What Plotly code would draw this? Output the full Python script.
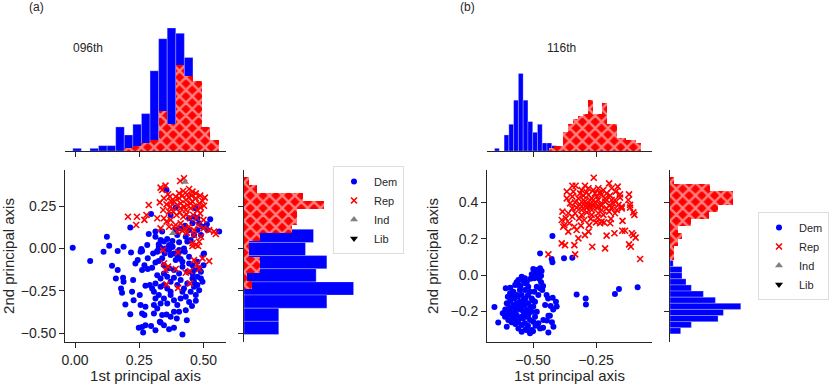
import plotly.graph_objects as go

# ---- panel (a): 096th ----
a_dem = [(-0.009, 0.004), (0.059, -0.075), (0.124, 0.069), (0.133, 0.016), (0.111, -0.02), (0.166, -0.016),
         (0.189, 0.01), (0.218, -0.024), (0.255, -0.02), (0.261, -0.016), (0.258, -0.004), (0.287, 0.085),
         (0.313, 0.069), (0.326, 0.024), (0.346, 0.04), (0.366, 0.02), (0.333, 0.05), (0.32, -0.016),
         (0.359, 0.055), (0.379, 0.043), (0.398, 0.079), (0.392, 0.108), (0.411, 0.118), (0.431, 0.069),
         (0.444, 0.108), (0.45, 0.049), (0.437, 0.04), (0.476, 0.178), (0.463, 0.187), (0.483, 0.148),
         (0.526, 0.172), (0.515, 0.108), (0.561, 0.099), (0.49, 0.079), (0.502, -0.03), (0.405, -0.01),
         (0.424, 0.0), (0.385, -0.03), (0.372, 0.197), (0.47, 0.237), (0.392, 0.241), (0.444, 0.178),
         (0.356, 0.345), (0.296, 0.203), (0.215, 0.124), (0.144, -0.103), (0.166, -0.128), (0.159, -0.178),
         (0.187, -0.174), (0.189, -0.197), (0.179, -0.237), (0.183, -0.262), (0.226, -0.187), (0.222, -0.256),
         (0.228, -0.306), (0.252, -0.276), (0.244, -0.069), (0.235, -0.089), (0.196, -0.331), (0.215, -0.389),
         (0.255, -0.335), (0.261, -0.385), (0.27, -0.394), (0.274, -0.345), (0.248, -0.469), (0.261, -0.464),
         (0.274, -0.454), (0.265, -0.497), (0.296, -0.458), (0.313, -0.483), (0.333, -0.438), (0.346, -0.454),
         (0.366, -0.477), (0.385, -0.469), (0.418, -0.509), (0.356, -0.39), (0.396, -0.414), (0.435, -0.424),
         (0.405, -0.375), (0.431, -0.365), (0.274, -0.221), (0.291, -0.217), (0.283, -0.122), (0.3, -0.114),
         (0.313, -0.083), (0.326, -0.075), (0.339, -0.059), (0.304, -0.03), (0.32, -0.02), (0.333, 0.004),
         (0.349, -0.03), (0.366, -0.01), (0.379, 0.01), (0.398, -0.039), (0.411, -0.063), (0.427, -0.02),
         (0.444, -0.049), (0.457, -0.099), (0.476, -0.079), (0.49, -0.138), (0.5, -0.035), (0.32, -0.158),
         (0.333, -0.178), (0.346, -0.148), (0.359, -0.168), (0.372, -0.197), (0.385, -0.174), (0.398, -0.217),
         (0.411, -0.187), (0.424, -0.237), (0.437, -0.207), (0.45, -0.256), (0.463, -0.227), (0.457, -0.178),
         (0.47, -0.276), (0.483, -0.247), (0.307, -0.256), (0.313, -0.296), (0.326, -0.276), (0.307, -0.335),
         (0.32, -0.355), (0.333, -0.325), (0.346, -0.296), (0.359, -0.325), (0.372, -0.276), (0.385, -0.306),
         (0.398, -0.335), (0.411, -0.296), (0.418, -0.256), (0.431, -0.286), (0.444, -0.316), (0.346, -0.217),
         (0.359, -0.237), (0.372, -0.256), (0.333, -0.227), (0.346, -0.099), (0.366, -0.118), (0.385, -0.128),
         (0.405, -0.148), (0.418, -0.108), (0.437, -0.138), (0.463, -0.128), (0.476, -0.168), (0.483, -0.118),
         (0.496, -0.197), (0.457, -0.148), (0.27, -0.099), (0.283, -0.059), (0.261, -0.128), (0.3, -0.237),
         (0.313, -0.207), (0.392, -0.069), (0.418, -0.079), (0.444, -0.089), (0.372, -0.039), (0.405, -0.02),
         (0.463, -0.197), (0.476, -0.217), (0.307, -0.385), (0.33, -0.434), (0.372, -0.404), (0.339, -0.394),
         (0.385, -0.375), (0.313, 0.099), (0.339, 0.099), (0.326, 0.01), (0.352, 0.0), (0.379, 0.01),
         (0.405, 0.036), (0.463, 0.079), (0.476, 0.108), (0.496, 0.128), (0.513, 0.142), (0.457, 0.148),
         (0.428, 0.134), (0.281, 0.02), (0.49, -0.178), (0.5, -0.1), (0.47, -0.31), (0.455, -0.34)]

a_rep = [(0.409, 0.398), (0.424, 0.414), (0.333, 0.359), (0.339, 0.345), (0.352, 0.371), (0.362, 0.32),
         (0.369, 0.306), (0.444, 0.351), (0.457, 0.335), (0.47, 0.325), (0.487, 0.312), (0.505, 0.3),
         (0.392, 0.306), (0.405, 0.296), (0.418, 0.312), (0.431, 0.286), (0.444, 0.3), (0.457, 0.276),
         (0.47, 0.296), (0.483, 0.266), (0.496, 0.28), (0.385, 0.276), (0.398, 0.256), (0.411, 0.266),
         (0.424, 0.247), (0.437, 0.256), (0.45, 0.237), (0.463, 0.247), (0.476, 0.227), (0.489, 0.241),
         (0.502, 0.252), (0.287, 0.256), (0.33, 0.272), (0.343, 0.227), (0.356, 0.26), (0.366, 0.217),
         (0.382, 0.217), (0.395, 0.197), (0.408, 0.213), (0.421, 0.187), (0.434, 0.201), (0.447, 0.178),
         (0.46, 0.197), (0.473, 0.181), (0.487, 0.207), (0.5, 0.168), (0.206, 0.187), (0.241, 0.187),
         (0.278, 0.197), (0.27, 0.168), (0.238, 0.138), (0.32, 0.178), (0.346, 0.178), (0.356, 0.158),
         (0.372, 0.168), (0.333, 0.118), (0.366, 0.128), (0.392, 0.138), (0.411, 0.148), (0.427, 0.118),
         (0.444, 0.128), (0.463, 0.108), (0.479, 0.138), (0.5, 0.118), (0.522, 0.108), (0.541, 0.099),
         (0.548, 0.085), (0.463, 0.079), (0.49, 0.069), (0.457, 0.03), (0.47, 0.02), (0.483, 0.039),
         (0.385, 0.128), (0.398, 0.099), (0.418, 0.103), (0.435, 0.093), (0.372, 0.247), (0.411, 0.237),
         (0.431, 0.227), (0.45, 0.266), (0.405, 0.325), (0.421, 0.339), (0.437, 0.32), (0.453, 0.312),
         (0.346, 0.296), (0.375, 0.276), (0.343, -0.01), (0.401, -0.024), (0.457, 0.014), (0.479, 0.014),
         (0.346, -0.089), (0.362, -0.108), (0.352, -0.128), (0.392, -0.122), (0.431, -0.144), (0.447, -0.134),
         (0.463, -0.069), (0.474, -0.095), (0.483, -0.122), (0.496, -0.059), (0.522, -0.075), (0.356, -0.213),
         (0.401, -0.233), (0.447, -0.207)]

a_ind = [(0.428, 0.392), (0.381, 0.09)]

# marginal histograms (a), counts
a_xbins = [0.008, 0.0414, 0.0748, 0.1082, 0.1416, 0.175, 0.2084, 0.2418, 0.2752, 0.3086, 0.342,
           0.3754, 0.4088, 0.4422, 0.4756, 0.509, 0.5424]
a_xdem = [1, 0, 1, 2, 2, 9, 6, 10, 14, 30, 42, 46, 44, 35, 20, 6, 1]
a_xrep = [0, 0, 0, 0, 0, 0, 1, 2, 3, 4, 15, 10, 32, 28, 26, 9, 4]

a_ybins_dem = [0.074, -0.0037, -0.0814, -0.1591, -0.2368, -0.3145, -0.3922, -0.4699]
a_ydem = [26, 23, 31, 27, 41, 31, 13, 13]
a_ybins_rep = [0.397, 0.350, 0.303, 0.256, 0.209, 0.162, 0.115, 0.068, 0.021, -0.026,
               -0.073, -0.120, -0.167, -0.214]
a_yrep = [2, 5, 22, 30, 20, 20, 18, 6, 2, 2, 6, 6, 1, 3]

# ---- panel (b): 116th ----
b_dem = [(-0.472, 0.119), (-0.426, 0.088), (-0.423, 0.07), (-0.377, 0.092), (-0.344, 0.095), (-0.423, 0.215),
         (-0.327, -0.107), (-0.291, -0.129), (-0.29, -0.162), (-0.175, -0.105), (-0.159, -0.077), (-0.085, -0.068),
         (-0.653, -0.176), (-0.638, -0.261), (-0.499, 0.033), (-0.485, 0.028), (-0.472, 0.037), (-0.466, 0.022),
         (-0.479, 0.009), (-0.492, 0.0), (-0.505, 0.004), (-0.495, -0.018), (-0.481, -0.009), (-0.468, -0.004),
         (-0.468, -0.04), (-0.463, -0.083), (-0.446, -0.11), (-0.422, -0.125), (-0.409, -0.147), (-0.406, -0.174),
         (-0.452, -0.165), (-0.439, -0.224), (-0.433, -0.224), (-0.419, -0.285), (-0.439, -0.316), (-0.512, -0.321),
         (-0.505, -0.303), (-0.558, -0.294), (-0.545, -0.275), (-0.479, -0.266), (-0.459, -0.248), (-0.472, -0.294),
         (-0.608, -0.073), (-0.604, -0.156), (-0.598, -0.202), (-0.611, -0.23), (-0.591, -0.101), (-0.585, -0.129),
         (-0.578, -0.165), (-0.571, -0.193), (-0.565, -0.22), (-0.558, -0.248), (-0.552, -0.083), (-0.545, -0.11),
         (-0.538, -0.138), (-0.532, -0.165), (-0.525, -0.193), (-0.519, -0.22), (-0.512, -0.248), (-0.571, -0.055),
         (-0.558, -0.028), (-0.545, -0.009), (-0.532, -0.018), (-0.552, -0.147), (-0.565, -0.11), (-0.578, -0.092),
         (-0.591, -0.184), (-0.585, -0.211), (-0.538, -0.202), (-0.525, -0.23), (-0.505, -0.202), (-0.499, -0.174),
         (-0.492, -0.147), (-0.505, -0.129), (-0.512, -0.092), (-0.519, -0.064), (-0.532, -0.046), (-0.495, -0.092),
         (-0.485, -0.064), (-0.472, -0.073), (-0.479, -0.11), (-0.485, -0.202), (-0.492, -0.23), (-0.499, -0.257),
         (-0.532, -0.266), (-0.545, -0.23), (-0.574, -0.248), (-0.598, -0.248), (-0.604, -0.285), (-0.545, -0.312),
         (-0.525, -0.303), (-0.558, -0.055), (-0.532, -0.083), (-0.565, -0.156), (-0.545, -0.174), (-0.519, -0.156),
         (-0.575, -0.13), (-0.56, -0.12), (-0.55, -0.19), (-0.56, -0.17), (-0.57, -0.21), (-0.54, -0.24),
         (-0.53, -0.13), (-0.52, -0.11), (-0.55, -0.06), (-0.58, -0.23), (-0.59, -0.14), (-0.6, -0.12),
         (-0.51, -0.18), (-0.5, -0.14), (-0.56, -0.26), (-0.52, -0.28), (-0.49, -0.28), (-0.61, -0.19),
         (-0.62, -0.21), (-0.6, -0.22), (-0.535, -0.22), (-0.515, -0.2), (-0.545, -0.155), (-0.57, -0.18),
         (-0.58, -0.1), (-0.54, -0.03), (-0.525, -0.04), (-0.51, -0.02), (-0.495, 0.015), (-0.475, -0.02),
         (-0.46, -0.06), (-0.44, -0.13), (-0.43, -0.17), (-0.42, -0.19), (-0.445, -0.25), (-0.425, -0.26),
         (-0.46, -0.29), (-0.5, -0.31), (-0.53, -0.3), (-0.57, -0.27), (-0.585, -0.26), (-0.59, -0.07),
         (-0.565, -0.04), (-0.6, -0.16)]

b_rep = [(-0.366, 0.459), (-0.340, 0.459), (-0.307, 0.468), (-0.280, 0.478), (-0.261, 0.468), (-0.241, 0.478),
         (-0.221, 0.468), (-0.188, 0.478), (-0.172, 0.459), (-0.155, 0.444), (-0.119, 0.444),
         (-0.366, 0.422), (-0.344, 0.432), (-0.320, 0.422), (-0.300, 0.437), (-0.280, 0.441), (-0.267, 0.422),
         (-0.247, 0.432), (-0.230, 0.441), (-0.214, 0.422), (-0.194, 0.437), (-0.175, 0.413), (-0.155, 0.426),
         (-0.122, 0.413), (-0.353, 0.395), (-0.333, 0.400), (-0.314, 0.389), (-0.294, 0.404), (-0.274, 0.389),
         (-0.254, 0.400), (-0.234, 0.389), (-0.214, 0.404), (-0.198, 0.382), (-0.181, 0.395), (-0.161, 0.386),
         (-0.148, 0.377), (-0.115, 0.386), (-0.344, 0.367), (-0.327, 0.371), (-0.307, 0.358), (-0.287, 0.371),
         (-0.267, 0.358), (-0.247, 0.371), (-0.228, 0.358), (-0.208, 0.367), (-0.188, 0.371), (-0.168, 0.358),
         (-0.148, 0.367), (-0.115, 0.371), (-0.383, 0.349), (-0.360, 0.340), (-0.333, 0.340), (-0.307, 0.331),
         (-0.287, 0.345), (-0.267, 0.331), (-0.241, 0.340), (-0.221, 0.331), (-0.198, 0.349), (-0.175, 0.340),
         (-0.102, 0.345), (-0.098, 0.331), (-0.386, 0.303), (-0.370, 0.312), (-0.344, 0.321), (-0.317, 0.312),
         (-0.297, 0.303), (-0.271, 0.309), (-0.244, 0.316), (-0.228, 0.294), (-0.191, 0.309), (-0.145, 0.298),
         (-0.376, 0.275), (-0.356, 0.285), (-0.336, 0.266), (-0.310, 0.272), (-0.277, 0.275), (-0.250, 0.290),
         (-0.234, 0.285), (-0.218, 0.290), (-0.194, 0.285), (-0.380, 0.266), (-0.360, 0.239), (-0.327, 0.248),
         (-0.294, 0.220), (-0.280, 0.239), (-0.320, 0.202), (-0.373, 0.165), (-0.386, 0.174), (-0.336, 0.165),
         (-0.265, 0.156), (-0.214, 0.147), (-0.208, 0.217), (-0.177, 0.230), (-0.146, 0.244), (-0.135, 0.244),
         (-0.108, 0.230), (-0.102, 0.220), (-0.093, 0.206), (-0.119, 0.169), (-0.112, 0.156), (-0.439, 0.114),
         (-0.333, 0.114), (-0.075, 0.088), (-0.259, 0.536), (-0.344, 0.492), (-0.331, 0.492), (-0.294, 0.492),
         (-0.198, 0.505), (-0.164, 0.487), (-0.313, 0.450), (-0.287, 0.455), (-0.254, 0.450), (-0.234, 0.455),
         (-0.208, 0.450), (-0.300, 0.413), (-0.274, 0.413), (-0.241, 0.413), (-0.208, 0.413), (-0.188, 0.413),
         (-0.287, 0.386), (-0.261, 0.382), (-0.228, 0.382), (-0.307, 0.376), (-0.274, 0.376), (-0.241, 0.376)]

b_xbins_dem = [-0.643, -0.6241, -0.6052, -0.5863, -0.5674, -0.5485, -0.5296, -0.5107, -0.4918, -0.4729,
               -0.454, -0.4351, -0.4162]
b_xdem = [1, 0, 6, 10, 19, 29, 19, 11, 7, 10, 3, 3, 2]
b_xbins_rep = [-0.427, -0.4078, -0.3886, -0.3694, -0.3502, -0.331, -0.3118, -0.2926, -0.2734, -0.2542,
               -0.235, -0.2158, -0.1966, -0.1774, -0.1582, -0.139, -0.1198, -0.1006, -0.0814]
b_xrep = [1, 2, 2, 7, 10, 12, 13, 14, 19, 14, 14, 18, 10, 10, 5, 5, 4, 4, 3]

b_ybins_dem = [0.097, 0.0633, 0.0296, -0.0041, -0.0378, -0.0715, -0.1052, -0.1389, -0.1726, -0.2063,
               -0.24, -0.2737, -0.3074]
b_ydem = [1, 1.2, 4.5, 4.5, 6, 8, 12.5, 17, 26.5, 20, 18, 8, 4]
b_ybins_rep = [0.519, 0.481, 0.443, 0.405, 0.367, 0.329, 0.291, 0.253, 0.215, 0.177, 0.139, 0.101]
b_yrep = [1.5, 15, 23.5, 23.5, 18, 14.5, 8, 3, 4.5, 3, 1.5, 1.5]

BLUE = '#0000ff'
RED = '#ff0000'
GREY = '#808080'
INK = '#262626'
FONT = 'Liberation Sans, Arial, sans-serif'

W, H = 830, 384


def fx(px):
    return px / W


def fy(py):
    return 1 - py / H


fig = go.Figure()


def add_scatter(dem, rep, ind, xa, ya, legend):
    fig.add_trace(go.Scatter(x=[p[0] for p in dem], y=[p[1] for p in dem], mode='markers', name='Dem',
                             marker=dict(color=BLUE, size=6, line=dict(width=0)),
                             xaxis=xa, yaxis=ya, legend=legend))
    fig.add_trace(go.Scatter(x=[p[0] for p in rep], y=[p[1] for p in rep], mode='markers', name='Rep',
                             marker=dict(color=RED, size=6, symbol='x-thin', line=dict(color=RED, width=1.6)),
                             xaxis=xa, yaxis=ya, legend=legend))
    fig.add_trace(go.Scatter(x=[p[0] for p in ind] or [None], y=[p[1] for p in ind] or [None],
                             mode='markers', name='Ind',
                             marker=dict(color=GREY, size=7, symbol='triangle-up'),
                             xaxis=xa, yaxis=ya, legend=legend))
    fig.add_trace(go.Scatter(x=[None], y=[None], mode='markers', name='Lib',
                             marker=dict(color='black', size=7, symbol='triangle-down'),
                             xaxis=xa, yaxis=ya, legend=legend))


def blue_bar(pos, val, width, xa, ya, horiz=False):
    kw = dict(y=pos, x=val, orientation='h') if horiz else dict(x=pos, y=val)
    fig.add_trace(go.Bar(**kw, width=width, showlegend=False, xaxis=xa, yaxis=ya,
                         marker=dict(color=BLUE, line=dict(color='rgba(255,255,255,0.45)', width=0.6))))


def red_bar(pos, val, width, xa, ya, horiz=False):
    kw = dict(y=pos, x=val, orientation='h') if horiz else dict(x=pos, y=val)
    fig.add_trace(go.Bar(**kw, width=width, showlegend=False, xaxis=xa, yaxis=ya,
                         marker=dict(color=RED, line=dict(width=0),
                                     pattern=dict(shape='x', fgcolor='white', size=9,
                                                  solidity=0.45, fillmode='overlay'))))


add_scatter(a_dem, a_rep, a_ind, 'x', 'y', 'legend')
blue_bar(a_xbins, a_xdem, 0.0334, 'x2', 'y2')
red_bar(a_xbins, a_xrep, 0.0336, 'x2', 'y2')
blue_bar(a_ybins_dem, a_ydem, 0.0777, 'x3', 'y3', horiz=True)
red_bar(a_ybins_rep, a_yrep, 0.0472, 'x3', 'y3', horiz=True)

add_scatter(b_dem, b_rep, [], 'x4', 'y4', 'legend2')
blue_bar(b_xbins_dem, b_xdem, 0.0189, 'x5', 'y5')
red_bar(b_xbins_rep, b_xrep, 0.0194, 'x5', 'y5')
blue_bar(b_ybins_dem, b_ydem, 0.0337, 'x6', 'y6', horiz=True)
red_bar(b_ybins_rep, b_yrep, 0.0382, 'x6', 'y6', horiz=True)

tick_font = dict(family=FONT, size=14, color=INK)
title_font = dict(family=FONT, size=15, color=INK)
spine = dict(showline=True, linecolor=INK, linewidth=1, ticks='outside', ticklen=5, tickwidth=1,
             tickcolor=INK, showgrid=False, zeroline=False, automargin=False)

sc_y = [fy(342), fy(170)]
top_y = [fy(151), fy(20)]

a_xr = [-0.039, 0.5875]
a_yr = [-0.553, 0.463]
b_xr = [-0.6825, -0.028]
b_yr = [-0.369, 0.5785]

legend_style = dict(bgcolor='white', bordercolor='#dddddd', borderwidth=1,
                    font=dict(family=FONT, size=11, color=INK), itemwidth=30, yanchor='top')


def label(text, px, py, size=12):
    return dict(text=text, x=fx(px), y=fy(py), xref='paper', yref='paper', showarrow=False,
                xanchor='center', yanchor='middle', font=dict(family=FONT, size=size, color=INK))


fig.update_layout(
    width=W, height=H, margin=dict(l=0, r=0, t=0, b=0),
    paper_bgcolor='white', plot_bgcolor='white', barmode='overlay', bargap=0,
    hovermode=False,
    font=dict(family=FONT, color=INK),
    # panel (a)
    xaxis=dict(domain=[fx(65), fx(226)], range=a_xr, anchor='y', tickvals=[0, 0.25, 0.5],
               tickformat='.2f', tickfont=tick_font,
               title=dict(text='1st principal axis', font=title_font, standoff=4), **spine),
    yaxis=dict(domain=sc_y, range=a_yr, anchor='x', tickvals=[-0.5, -0.25, 0, 0.25],
               tickformat='.2f', tickfont=tick_font,
               title=dict(text='2nd principal axis', font=title_font, standoff=8), **spine),
    xaxis2=dict(domain=[fx(65), fx(226)], range=a_xr, anchor='y2', tickvals=[0, 0.25, 0.5],
                showticklabels=False, **spine),
    yaxis2=dict(domain=top_y, range=[0, 49], anchor='x2', visible=False),
    xaxis3=dict(domain=[fx(244), fx(360)], range=[0, 43.4], anchor='y3', visible=False),
    yaxis3=dict(domain=sc_y, range=a_yr, anchor='x3', tickvals=[-0.5, -0.25, 0, 0.25],
                showticklabels=False, **spine),
    # panel (b)
    xaxis4=dict(domain=[fx(487), fx(652)], range=b_xr, anchor='y4', tickvals=[-0.5, -0.25],
                tickformat='.2f', tickfont=tick_font,
                title=dict(text='1st principal axis', font=title_font, standoff=4), **spine),
    yaxis4=dict(domain=sc_y, range=b_yr, anchor='x4', tickvals=[-0.2, 0, 0.2, 0.4],
                tickformat='.1f', tickfont=tick_font,
                title=dict(text='2nd principal axis', font=title_font, standoff=8), **spine),
    xaxis5=dict(domain=[fx(487), fx(652)], range=b_xr, anchor='y5', tickvals=[-0.5, -0.25],
                showticklabels=False, **spine),
    yaxis5=dict(domain=top_y, range=[0, 49], anchor='x5', visible=False),
    xaxis6=dict(domain=[fx(670), fx(760)], range=[0, 33.7], anchor='y6', visible=False),
    yaxis6=dict(domain=sc_y, range=b_yr, anchor='x6', tickvals=[-0.2, 0, 0.2, 0.4],
                showticklabels=False, **spine),
    legend=dict(x=fx(333), y=fy(166), xanchor='left', **legend_style),
    legend2=dict(x=fx(829), y=fy(212), xanchor='right', **legend_style),
    annotations=[
        label('(a)', 36, 7),
        label('(b)', 467, 7),
        label('096th', 88, 48),
        label('116th', 561, 48),
    ],
)

# page body has a default 8px margin; drop it so the figure fills the window
fig.write_html("out.html", config={'displayModeBar': False, 'staticPlot': True},
               post_script="document.body.style.margin = '0';")
